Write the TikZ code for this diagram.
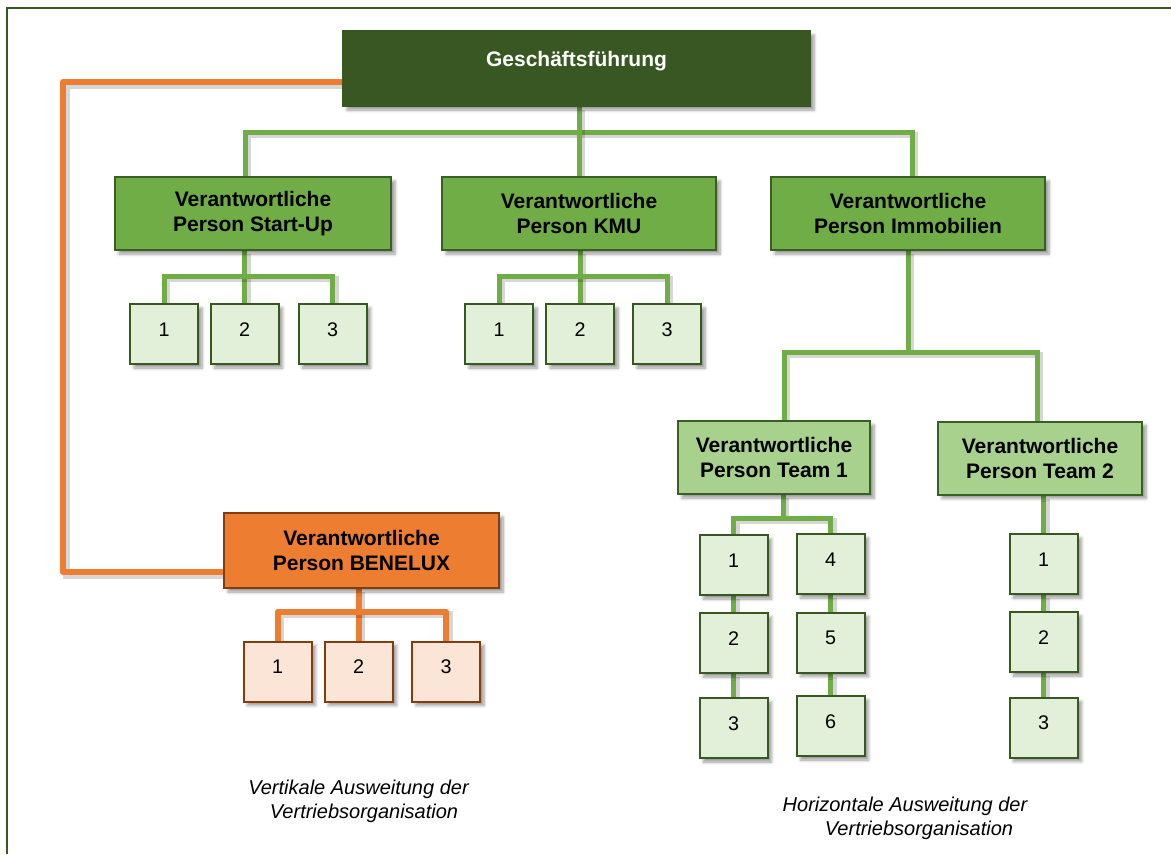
\documentclass[tikz,border=0pt]{standalone}
\usepackage{fontspec}
\setmainfont{Liberation Sans}
\usetikzlibrary{shadows.blur,backgrounds}
\newdimen\pxu \pxu=0.75pt

\definecolor{gfgreen}{HTML}{385723}
\definecolor{midgreen}{HTML}{70AD47}
\definecolor{lightgreen}{HTML}{A9D18E}
\definecolor{palegreen}{HTML}{E2F0D9}
\definecolor{edgegreen}{HTML}{3B5E27}
\definecolor{orangefill}{HTML}{ED7D31}
\definecolor{orangeedge}{HTML}{843C0C}
\definecolor{peach}{HTML}{FBE5D6}

\tikzset{
  box/.style={draw, line width=1.5pt, inner sep=0pt, align=center,
    blur shadow={shadow xshift=4\pxu, shadow yshift=-4\pxu,
      shadow blur steps=6, shadow blur radius=3\pxu, shadow opacity=40}},
  headfont/.style={font=\bfseries\fontsize{15.75}{18.75}\selectfont},
  gfbox/.style={box, headfont, fill=gfgreen, draw=gfgreen, text=white,
    text height=11.25pt, text depth=15pt,
    minimum width=467\pxu, minimum height=75\pxu},
  leadbox/.style={box, headfont, fill=midgreen, draw=edgegreen,
    minimum width=274\pxu, minimum height=73\pxu},
  teambox/.style={box, headfont, fill=lightgreen, draw=edgegreen,
    minimum height=73\pxu},
  benebox/.style={box, headfont, fill=orangefill, draw=orangeedge,
    minimum width=275\pxu, minimum height=75\pxu},
  numbox/.style={box, font=\fontsize{14.8}{17}\selectfont,
    text height=10.5pt, text depth=7.5pt,
    minimum width=68\pxu, minimum height=60\pxu},
  gnum/.style={numbox, fill=palegreen, draw=gfgreen},
  onum/.style={numbox, fill=peach, draw=orangeedge},
  caption/.style={align=center, font=\itshape\fontsize{15}{18}\selectfont},
  lineshadow/.style={preaction={draw=black, draw opacity=0.16, line width=#1,
    transform canvas={shift={(3\pxu,-3\pxu)}}}},
  gline/.style={draw=midgreen, line width=3.75pt, lineshadow=4.5pt},
  oline/.style={draw=orangefill, line width=4.5pt, line join=round,
    lineshadow=5.25pt},
}

\begin{document}
\begin{tikzpicture}[x=0.75pt, y=-0.75pt]
\useasboundingbox (0,0) rectangle (1171,854);

% outer frame (left and top edges)
\draw[gfgreen, line width=2.2pt] (7,854) -- (7,8) -- (1171,8);

% management
\node[gfbox] (gf) at (576.5,68.5) {Geschäftsführung};

% responsible persons
\node[leadbox, minimum width=276\pxu] (su) at (253,213.5) {Verantwortliche\\Person Start-Up};
\node[leadbox] (kmu) at (579,213.5) {Verantwortliche\\Person KMU};
\node[leadbox] (im) at (908,213.5) {Verantwortliche\\Person Immobilien};

% Start-Up team
\node[gnum] (su1) at (164,334) {1};
\node[gnum] (su2) at (244.5,334) {2};
\node[gnum] (su3) at (332.5,334) {3};

% KMU team
\node[gnum] (kmu1) at (499,334) {1};
\node[gnum] (kmu2) at (580,334) {2};
\node[gnum] (kmu3) at (667,334) {3};

% real estate teams
\node[teambox, minimum width=192\pxu] (t1) at (774,457.5) {Verantwortliche\\Person Team 1};
\node[teambox, minimum width=204\pxu] (t2) at (1040,458) {Verantwortliche\\Person Team 2};

\node[gnum] (a1) at (733.5,565) {1};
\node[gnum] (a2) at (733.5,643) {2};
\node[gnum] (a3) at (733.5,728) {3};
\node[gnum] (a4) at (830.5,564) {4};
\node[gnum] (a5) at (830.5,642.5) {5};
\node[gnum] (a6) at (830.5,726) {6};

\node[gnum] (b1) at (1043.5,564) {1};
\node[gnum] (b2) at (1043.5,642) {2};
\node[gnum] (b3) at (1043.5,727.5) {3};

% BENELUX
\node[benebox] (bx) at (361.5,550.5) {Verantwortliche\\Person BENELUX};
\node[onum] (e1) at (277.5,671.5) {1};
\node[onum] (e2) at (358.5,671.5) {2};
\node[onum] (e3) at (446,671.5) {3};

% captions
\node[caption] (capv) at (358.5,801) {Vertikale Ausweitung der\\\hspace*{11\pxu}Vertriebsorganisation};
\node[caption] (caph) at (905,818) {Horizontale Ausweitung der\\\hspace*{28\pxu}Vertriebsorganisation};

% junction points of the buses
\coordinate (bl) at (245,132);
\coordinate (br) at (912,132);
\coordinate (tl) at (784,352);
\coordinate (tr) at (1037,352);
\coordinate (tb) at (783,518);
\coordinate (oa) at (63,82);
\coordinate (ob) at (63,572);

\begin{scope}[on background layer]
  % management to responsible persons
  \draw[gline] (su.north -| bl) -- (bl) -- (br) -- (im.north -| br);
  \draw[gline] (gf.south -| kmu) -- (kmu.north);
  % Start-Up
  \draw[gline] (su.south -| su2.north) -- (su2.north);
  \draw[gline] (su1.north) -- ++(0,-27) -| (su3.north);
  % KMU
  \draw[gline] (kmu.south -| kmu2.north) -- (kmu2.north);
  \draw[gline] (kmu1.north) -- ++(0,-27) -| (kmu3.north);
  % real estate
  \draw[gline] (im.south) -- (im.south |- tl);
  \draw[gline] (t1.north -| tl) -- (tl) -- (tr) -- (t2.north -| tr);
  \draw[gline] (t1.south -| tb) -- (tb);
  \draw[gline] (a1.north) |- (tb) -| (a4.north);
  \draw[gline] (a1.south) -- (a2.north);
  \draw[gline] (a2.south) -- (a3.north);
  \draw[gline] (a4.south) -- (a5.north);
  \draw[gline] (a5.south) -- (a6.north);
  \draw[gline] (t2.south -| b1.north) -- (b1.north);
  \draw[gline] (b1.south) -- (b2.north);
  \draw[gline] (b2.south) -- (b3.north);
  % BENELUX
  \draw[oline] (gf.west |- oa) -- (oa) -- (ob) -- (bx.west |- ob);
  \draw[oline] (bx.south -| e2.north) -- (e2.north);
  \draw[oline] (e1.north) -- ++(0,-29) -| (e3.north);
\end{scope}
\end{tikzpicture}
\end{document}
